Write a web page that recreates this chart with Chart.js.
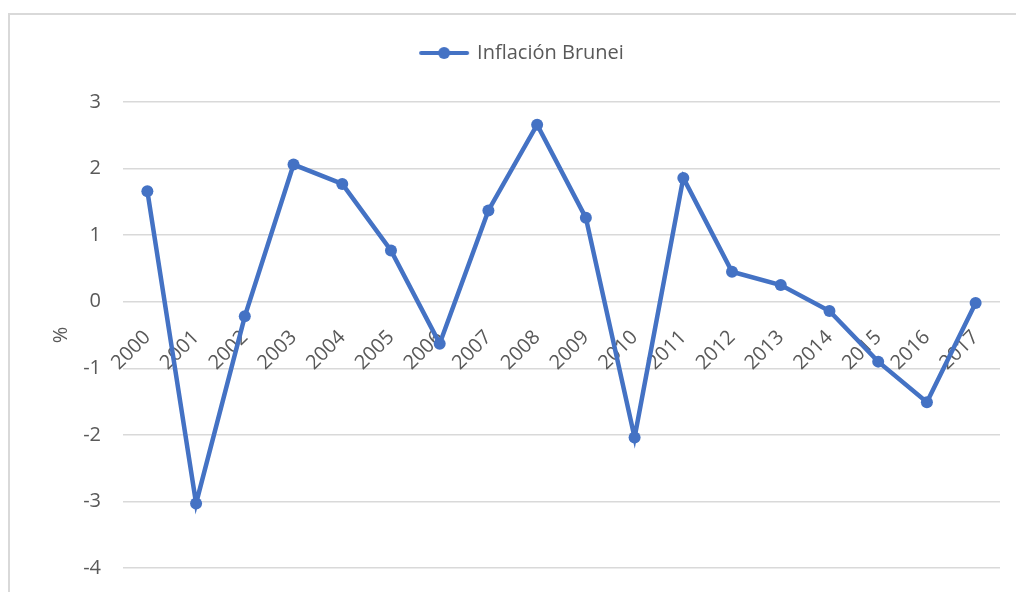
<!DOCTYPE html>
<html>
<head>
<meta charset="utf-8">
<script src="https://cdn.jsdelivr.net/npm/chart.js@4/dist/chart.umd.min.js"></script>
<style>
  html, body { margin: 0; padding: 0; background: #fff; }
  #wrap { position: relative; width: 1016px; height: 592px; }
  #frame { position: absolute; left: 8px; top: 13px; width: 1020px; height: 600px;
           border: 2px solid #d9d9d9; box-sizing: border-box; pointer-events: none; }
  canvas { position: absolute; left: 0; top: 0; }
</style>
</head>
<body>
<div id="wrap">
  <canvas id="chart" width="1016" height="592"></canvas>
  <div id="frame"></div>
</div>
<script>
// datos
const years = ['2000', '2001', '2002', '2003', '2004', '2005', '2006', '2007', '2008',
               '2009', '2010', '2011', '2012', '2013', '2014', '2015', '2016', '2017'];
const inflacion = [1.66, -3.03, -0.22, 2.06, 1.77, 0.77, -0.63, 1.37, 2.66,
                   1.26, -2.04, 1.86, 0.45, 0.25, -0.14, -0.90, -1.51, -0.02];
const serieNombre = 'Inflación Brunei';

const azul = '#4472C4';
const gris = '#595959';
const fuente = "'Open Sans', 'Noto Sans', sans-serif";

// icono de leyenda: línea con marcador
const icono = document.createElement('canvas');
icono.width = 52;
icono.height = 14;
const ictx = icono.getContext('2d');
ictx.strokeStyle = azul;
ictx.lineWidth = 4;
ictx.lineCap = 'round';
ictx.beginPath();
ictx.moveTo(3, 7);
ictx.lineTo(49, 7);
ictx.stroke();
ictx.fillStyle = azul;
ictx.beginPath();
ictx.arc(26, 7, 6, 0, Math.PI * 2);
ictx.fill();

new Chart(document.getElementById('chart'), {
    type: 'line',
    data: {
        labels: years,
        datasets: [{
            label: serieNombre,
            data: inflacion,
            borderColor: azul,
            backgroundColor: azul,
            borderWidth: 4.5,
            pointRadius: 6,
            pointHoverRadius: 6,
            pointBorderWidth: 0,
            tension: 0
        }]
    },
    options: {
        responsive: false,
        animation: false,
        layout: { padding: { left: 45, right: 16, top: 13, bottom: 24 } },
        plugins: {
            tooltip: { enabled: false },
            legend: {
                position: 'top',
                labels: {
                    usePointStyle: true,
                    pointStyle: icono,
                    pointStyleWidth: 46,
                    color: gris,
                    font: { family: fuente, size: 20 },
                    padding: 30
                }
            },
            // espacio vacío entre la leyenda y el área del gráfico
            subtitle: {
                display: true,
                text: '',
                weight: 100,
                font: { size: 10, lineHeight: 1 },
                padding: { top: 0, bottom: 19 }
            }
        },
        scales: {
            x: {
                position: { y: 0 },
                offset: true,
                grid: { display: false },
                border: { display: false },
                ticks: {
                    color: gris,
                    font: { family: fuente, size: 20 },
                    minRotation: 45,
                    maxRotation: 45,
                    padding: 16,
                    autoSkip: false
                }
            },
            y: {
                min: -4,
                max: 3,
                afterFit: (scale) => {
                    scale.width = 78;
                    // el padding de las marcas no debe empujar el borde inferior
                    scale.paddingTop = 0;
                    scale.paddingBottom = 0;
                },
                grid: { color: '#d9d9d9', lineWidth: 1.5, drawTicks: false },
                border: { display: false },
                ticks: {
                    stepSize: 1,
                    color: gris,
                    font: { family: fuente, size: 20 },
                    padding: 22
                },
                title: {
                    display: true,
                    text: '%',
                    color: gris,
                    font: { family: fuente, size: 20 }
                }
            }
        }
    }
});
</script>
</body>
</html>
